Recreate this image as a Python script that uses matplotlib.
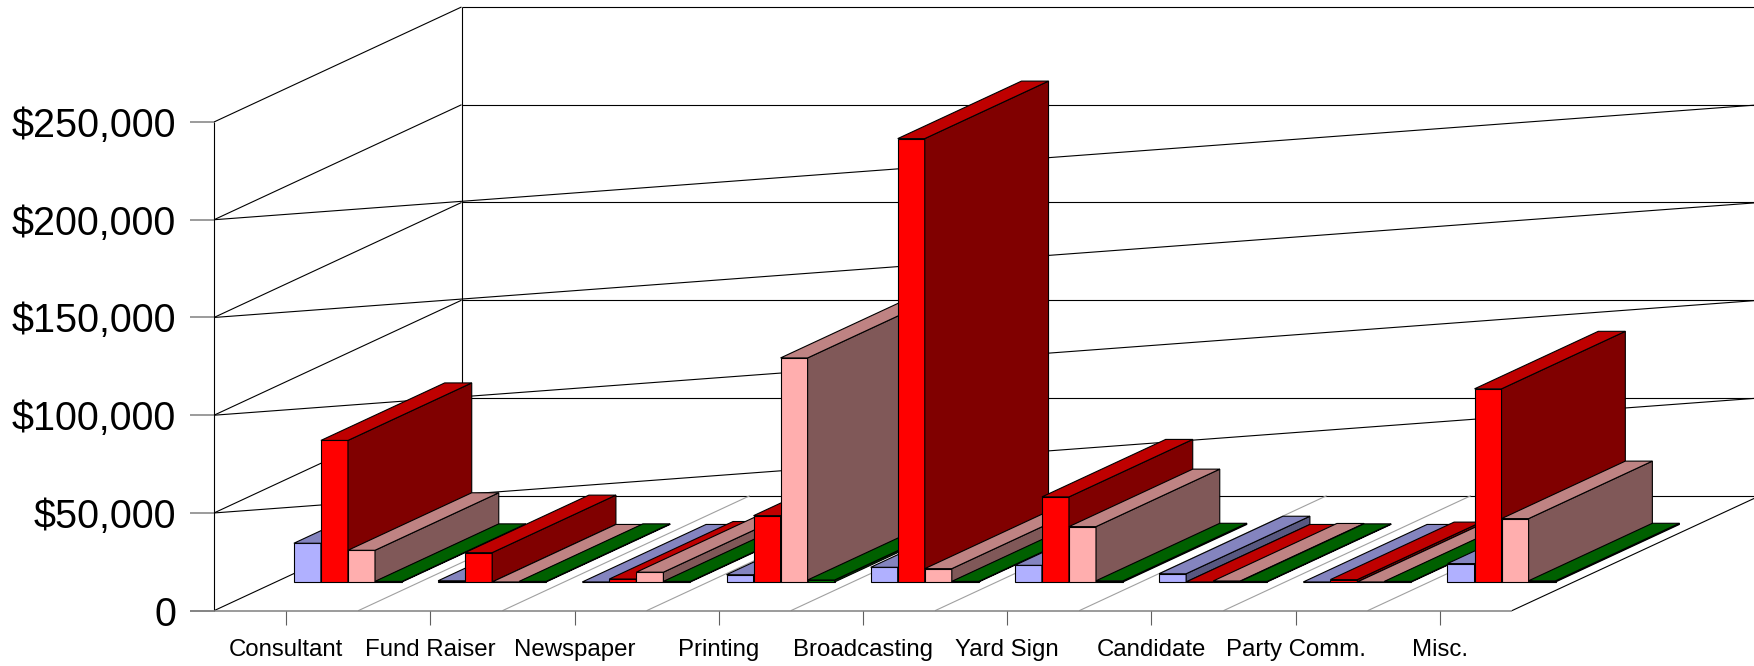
import matplotlib
matplotlib.use("Agg")
import matplotlib.pyplot as plt
from matplotlib.patches import Polygon

plt.rcParams["font.family"] = ["Liberation Sans", "DejaVu Sans"]

categories = ["Consultant", "Fund Raiser", "Newspaper", "Printing", "Broadcasting",
              "Yard Sign", "Candidate", "Party Comm.", "Misc."]
y_ticks = [0, 50000, 100000, 150000, 200000, 250000]
y_labels = ["0", "$50,000", "$100,000", "$150,000", "$200,000", "$250,000"]

blue = [19800, 600, 0, 3700, 7500, 8500, 4200, 0, 9400]
red = [72400, 15000, 1500, 33900, 226800, 43500, 0, 1200, 98800]
pink = [16200, 0, 5000, 114600, 6800, 28300, 500, 0, 32400]
green = [300, 300, 300, 1000, 300, 600, 300, 300, 600]

series = [blue, red, pink, green]
# front, top, side
colours = [("#B0B0FF", "#8484BF", "#585880"),
           ("#FF0000", "#BF0000", "#800000"),
           ("#FFAEAE", "#BF8383", "#805858"),
           ("#008000", "#006000", "#004000")]

# pixel geometry of the oblique box
PX_LEFT, PX_FLOOR = 214.0, 610.7
PX_CAT = 144.2
PX_VAL = 97.74 / 50000
DEPTH_X = 247.5 / PX_CAT
DEPTH_Y = 115 / PX_VAL
BAR_W = 0.1875
MARGIN = 0.125
D0, D1 = 0.25, 0.75
GRID = "#808080"

fig = plt.figure(figsize=(17.54, 6.66), dpi=100)
ax = fig.add_axes([0, 0, 1, 1])
ax.set_xlim(-PX_LEFT / PX_CAT, (1754 - PX_LEFT) / PX_CAT)
ax.set_ylim((PX_FLOOR - 666) / PX_VAL, PX_FLOOR / PX_VAL)
ax.axis("off")


def proj(x, v, d):
    return x + d * DEPTH_X, v + d * DEPTH_Y


def line(p, q, color="black", lw=0.8):
    ax.plot([p[0], q[0]], [p[1], q[1]], color=color, lw=lw, solid_capstyle="butt", zorder=1)


n = len(categories)
top = y_ticks[-1]
far = (1760 - PX_LEFT) / PX_CAT - DEPTH_X

# walls
line(proj(0, 0, 0), proj(0, top, 0))
line(proj(0, 0, 1), proj(0, top, 1))
for t in y_ticks:
    line(proj(0, t, 0), proj(0, t, 1))
    line(proj(0, t, 1), proj(far, t, 1))
    if 0 < t < top:
        line(proj(0, t, 0), proj(far, t, 1))
line(proj(n, 0, 0), proj(far, 0, 1))

# floor
for i in range(1, n):
    line(proj(i, 0, 0), proj(i, 0, 1), color="#A0A0A0")
line((-24 / PX_CAT, 0), (n, 0), color=GRID, lw=1.1)

# ticks and labels
for t, lab in zip(y_ticks, y_labels):
    line((-24 / PX_CAT, t), (0, t), color=GRID, lw=1.1)
    ax.text(-38 / PX_CAT, t, lab, ha="right", va="center_baseline", fontsize=28.5)
for i, lab in enumerate(categories):
    line((i + 0.5, 0), (i + 0.5, -14 / PX_VAL), color="#606060")
    ax.text(i + 0.5, -39.5 / PX_VAL, lab, ha="center", va="center", fontsize=17.3)

# bars, painted left to right
z = 2
for i in range(n):
    for s, values in enumerate(series):
        v = values[i]
        x0 = i + MARGIN + s * BAR_W
        x1 = x0 + BAR_W
        front, roof, side = colours[s]
        faces = [
            ([proj(x0, 0, D0), proj(x1, 0, D0), proj(x1, v, D0), proj(x0, v, D0)], front),
            ([proj(x1, 0, D0), proj(x1, 0, D1), proj(x1, v, D1), proj(x1, v, D0)], side),
            ([proj(x0, v, D0), proj(x1, v, D0), proj(x1, v, D1), proj(x0, v, D1)], roof),
        ]
        for pts, c in faces:
            ax.add_patch(Polygon(pts, closed=True, facecolor=c, edgecolor="black",
                                 lw=0.8, zorder=z))
            z += 1

fig.savefig("out.png", dpi=100, facecolor="white")
